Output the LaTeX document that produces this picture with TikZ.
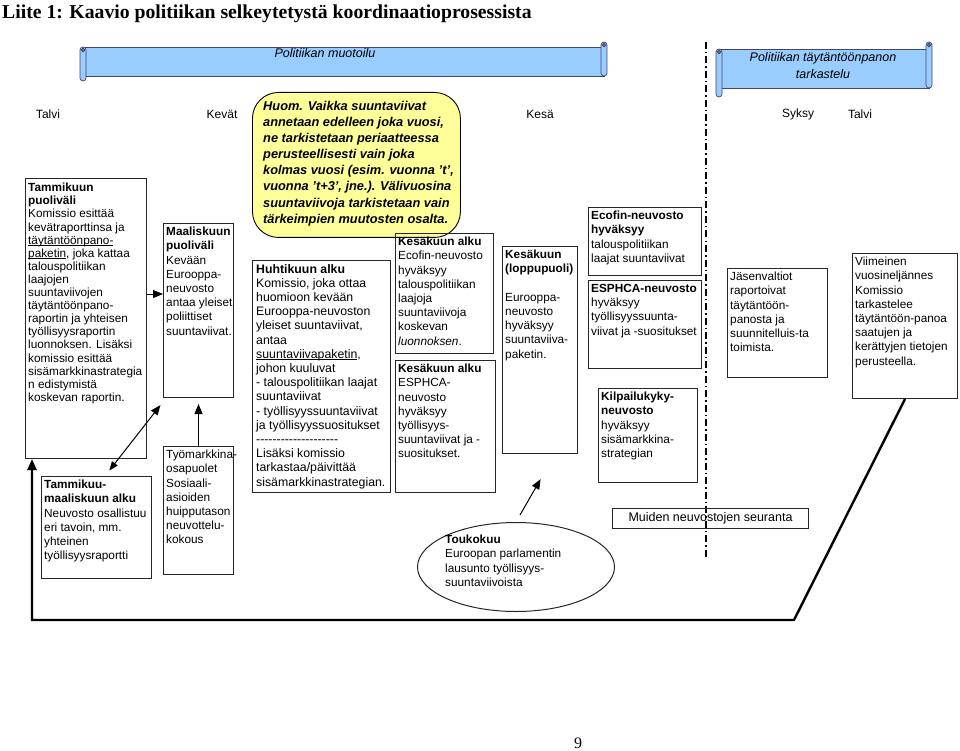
\documentclass[tikz,border=0pt]{standalone}
\usepackage{fontspec}
\setmainfont{Liberation Sans}
\newfontfamily\titlefont{Liberation Serif}
\usetikzlibrary{arrows.meta,shapes.geometric,calc}
\definecolor{bannerblue}{RGB}{153,204,255}
\definecolor{bannerline}{RGB}{70,70,100}
\definecolor{noteyellow}{RGB}{255,255,153}
\newcommand\bodyfont{\fontsize{11.8}{14.2}\selectfont}
\newcommand\hyphenrow{-{}-{}-{}-{}-{}-{}-{}-{}-{}-{}-{}-{}-{}-{}-{}-{}-{}-{}-{}-}
\newcommand\ulx[1]{\setbox0\hbox{#1}\rlap{\rule[-1.4pt]{\wd0}{0.6pt}}#1}
\tikzset{
  bx/.style={draw=black!85, line width=1pt, inner sep=0pt, anchor=north west},
  txt/.style={anchor=north west, align=left, inner sep=0pt, font=\bodyfont},
  arr/.style={-{Triangle[length=10pt,width=8pt]}, line width=1pt},
  dblarr/.style={{Triangle[length=9pt,width=7pt]}-{Triangle[length=10pt,width=8pt]}, line width=1pt},
  loopline/.style={line width=2.4pt, -{Triangle[length=11pt,width=9pt]}},
  season/.style={font=\fontsize{12}{14}\selectfont, inner sep=0pt},
  bannertxt/.style={font=\itshape\fontsize{12.5}{15}\selectfont, inner sep=0pt},
  scrollpart/.style={draw=bannerline, line width=0.7pt, fill=bannerblue},
}
\begin{document}
\begin{tikzpicture}[x=1pt,y=-1pt]
\useasboundingbox[fill=white] (0,0) rectangle (960,751);

% title
\node[anchor=base west, inner sep=0pt, font=\titlefont\bfseries\fontsize{19.7}{22}\selectfont] (title) at (2,19) {Liite 1: Kaavio politiikan selkeytetystä koordinaatioprosessista};

% banner 1
\filldraw[scrollpart] (83,47) rectangle (604,76);
\filldraw[scrollpart, rounded corners=3pt] (80,47) rectangle (86,81);
\filldraw[scrollpart, rounded corners=3pt] (601,42) rectangle (607,76);
\filldraw[scrollpart, fill=bannerblue!60!black] (604,45) circle (1.8pt);
\filldraw[scrollpart, fill=bannerblue!60!black] (83,50) circle (1.8pt);
\node[bannertxt] (b1) at (325,53) {Politiikan muotoilu};

% banner 2
\filldraw[scrollpart] (719,49) rectangle (929,88);
\filldraw[scrollpart, rounded corners=3pt] (716,49) rectangle (722,97);
\filldraw[scrollpart, rounded corners=3pt] (926,42) rectangle (932,88);
\filldraw[scrollpart, fill=bannerblue!60!black] (929,45) circle (1.8pt);
\filldraw[scrollpart, fill=bannerblue!60!black] (719,52) circle (1.8pt);
\node[bannertxt, align=center] (b2) at (823,66) {Politiikan täytäntöönpanon\\[2pt]tarkastelu};

% dash-dot separator
\draw[line width=1.2pt, dash pattern=on 7pt off 3pt on 1.5pt off 3pt] (706,42) -- (706,557);

% seasons
\node[season] (s1) at (48,114) {Talvi};
\node[season] (s2) at (222,114) {Kevät};
\node[season] (s3) at (540,114) {Kesä};
\node[season] (s4) at (798,114) {Syksy};
\node[season] (s5) at (860,114) {Talvi};

% note
\node[draw=black, line width=0.9pt, fill=noteyellow, rounded corners=26pt, anchor=north west, minimum width=208pt, minimum height=145pt, inner sep=0pt] (note) at (252,92) {};
\node[anchor=north west, align=left, inner sep=0pt, font=\bfseries\itshape\fontsize{12.8}{16.1}\selectfont] (notet) at (263,101) {Huom. Vaikka suuntaviivat\\annetaan edelleen joka vuosi,\\ne tarkistetaan periaatteessa\\perusteellisesti vain joka\\kolmas vuosi (esim. vuonna 't',\\vuonna 't+3', jne.). Välivuosina\\suuntaviivoja tarkistetaan vain\\tärkeimpien muutosten osalta.};

% boxes
\node[bx, minimum width=121pt, minimum height=280pt] (A) at (25,178) {};
\node[txt, font=\fontsize{11.8}{13.1}\selectfont] (At) at ($(A.north west)+(3,5)$) {\textbf{Tammikuun}\\\textbf{puoliväli}\\Komissio esittää\\kevätraporttinsa ja\\\ulx{täytäntöönpano-}\\\ulx{paketin}, joka kattaa\\talouspolitiikan\\laajojen\\suuntaviivojen\\täytäntöönpano-\\raportin ja yhteisen\\työllisyysraportin\\luonnoksen. Lisäksi\\komissio esittää\\sisämarkkinastrategia\\n edistymistä\\koskevan raportin.};

\node[bx, minimum width=110pt, minimum height=102pt] (B) at (41,476) {};
\node[txt] (Bt) at ($(B.north west)+(3,4)$) {\textbf{Tammikuu-}\\\textbf{maaliskuun alku}\\Neuvosto osallistuu\\eri tavoin, mm.\\yhteinen\\työllisyysraportti};

\node[bx, minimum width=70pt, minimum height=174pt] (D) at (163,223) {};
\node[txt] (Dt) at ($(D.north west)+(3,4)$) {\textbf{Maaliskuun}\\\textbf{puoliväli}\\Kevään\\Eurooppa-\\neuvosto\\antaa yleiset\\poliittiset\\suuntaviivat.};

\node[bx, minimum width=70pt, minimum height=128pt] (E) at (163,446) {};
\node[txt] (Et) at ($(E.north west)+(3,4)$) {Työmarkkina-\\osapuolet\\Sosiaali-\\asioiden\\huipputason\\neuvottelu-\\kokous};

\node[bx, minimum width=138pt, minimum height=232pt] (F) at (252,260) {};
\node[txt, font=\fontsize{12.3}{14.2}\selectfont] (Ft) at ($(F.north west)+(4,4)$) {\textbf{Huhtikuun alku}\\Komissio, joka ottaa\\huomioon kevään\\Eurooppa-neuvoston\\yleiset suuntaviivat,\\antaa\\\ulx{suuntaviivapaketin},\\johon kuuluvat\\- talouspolitiikan laajat\\suuntaviivat\\- työllisyyssuuntaviivat\\ja työllisyyssuositukset\\\hyphenrow\\Lisäksi komissio\\tarkastaa/päivittää\\sisämarkkinastrategian.};

\node[bx, minimum width=98pt, minimum height=120pt] (G) at (395,233) {};
\node[txt] (Gt) at ($(G.north west)+(3,4)$) {\textbf{Kesäkuun alku}\\Ecofin-neuvosto\\hyväksyy\\talouspolitiikan\\laajoja\\suuntaviivoja\\koskevan\\\textit{luonnoksen}.};

\node[bx, minimum width=100pt, minimum height=132pt] (H) at (395,360) {};
\node[txt] (Ht) at ($(H.north west)+(3,4)$) {\textbf{Kesäkuun alku}\\ESPHCA-\\neuvosto\\hyväksyy\\työllisyys-\\suuntaviivat ja -\\suositukset.};

\node[bx, minimum width=75pt, minimum height=207pt] (I) at (502,246) {};
\node[txt] (It) at ($(I.north west)+(3,4)$) {\textbf{Kesäkuun}\\\textbf{(loppupuoli)}\\[14.2pt]Eurooppa-\\neuvosto\\hyväksyy\\suuntaviiva-\\paketin.};

\node[bx, minimum width=113pt, minimum height=68pt] (J) at (588,207) {};
\node[txt] (Jt) at ($(J.north west)+(3,4)$) {\textbf{Ecofin-neuvosto}\\\textbf{hyväksyy}\\talouspolitiikan\\laajat suuntaviivat};

\node[bx, minimum width=113pt, minimum height=88pt] (K) at (588,280) {};
\node[txt] (Kt) at ($(K.north west)+(3,4)$) {\textbf{ESPHCA-neuvosto}\\hyväksyy\\työllisyyssuunta-\\viivat ja -suositukset};

\node[bx, minimum width=99pt, minimum height=94pt] (Kil) at (598,388) {};
\node[txt] (Kilt) at ($(Kil.north west)+(3,4)$) {\textbf{Kilpailukyky-}\\\textbf{neuvosto}\\hyväksyy\\sisämarkkina-\\strategian};

\node[bx, minimum width=100pt, minimum height=109pt] (L) at (727,268) {};
\node[txt] (Lt) at ($(L.north west)+(3,4)$) {Jäsenvaltiot\\raportoivat\\täytäntöön-\\panosta ja\\suunnitelluis-ta\\toimista.};

\node[bx, minimum width=105pt, minimum height=145pt] (M) at (852,253) {};
\node[txt] (Mt) at ($(M.north west)+(3,4)$) {Viimeinen\\vuosineljännes\\Komissio\\tarkastelee\\täytäntöön-panoa\\saatujen ja\\kerättyjen tietojen\\perusteella.};

\node[bx, minimum width=196pt, minimum height=20pt, font=\fontsize{12.5}{14}\selectfont] (Mu) at (612,508) {Muiden neuvostojen seuranta};

\node[draw=black!85, line width=1pt, ellipse, minimum width=197pt, minimum height=89pt, inner sep=0pt] (T) at (516,567) {};
\node[txt] (Tt) at (445,535) {\textbf{Toukokuu}\\Euroopan parlamentin\\lausunto työllisyys-\\suuntaviivoista};

% connectors
\draw[arr] ($(A.north east)+(0,116)$) -- ($(D.north west)+(0,71)$);
\draw[arr, shorten >=6pt] (E.north) -- (D.south);
\draw[dblarr, shorten <=7pt, shorten >=9pt] ($(B.north west)+(64,0)$) -- ($(D.south west)+(3,0)$);
\draw[arr, shorten <=8pt, shorten >=29pt] (T.north) -- ($(I.south)+(15,0)$);

\coordinate (c1) at (794,620);
\coordinate (c2) at (32,620);
\draw[loopline] (M.south) -- (c1) -- (c2) -- (c2 |- A.south);

% page number
\node[font=\titlefont\fontsize{16}{18}\selectfont, inner sep=0pt] (pg) at (578,743) {9};
\end{tikzpicture}
\end{document}
